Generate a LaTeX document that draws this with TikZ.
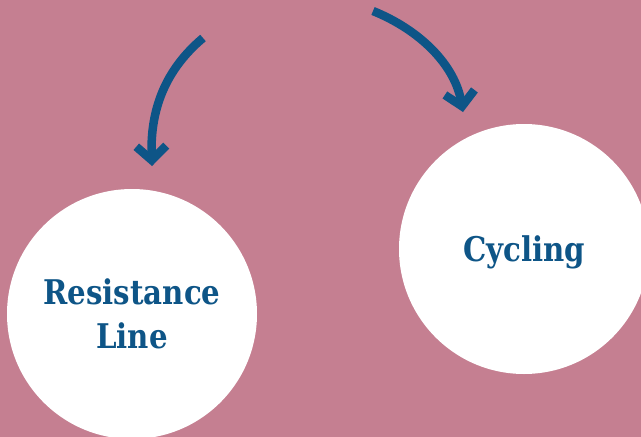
\documentclass[tikz,border=0pt]{standalone}
\usepackage{fontspec}
\setmainfont{DejaVu Serif}[FakeStretch=0.86]
\usepackage{xcolor}
\usepackage{tikz}
\usetikzlibrary{arrows.meta}
\definecolor{bgpink}{HTML}{C57F91}
\definecolor{inkblue}{HTML}{0E5587}

\begin{document}
\begin{tikzpicture}[
        x=1pt, y=-1pt,
        bubble/.style={
            circle,
            fill=white,
            align=center,
            text=inkblue,
            font=\bfseries\fontsize{34}{44}\selectfont,
            minimum size=250pt,
            text depth=0pt,
            inner sep=0pt
        },
        curvearrow/.style={
            draw=inkblue,
            line width=8.5pt,
            -{Straight Barb[length=14pt,width=30pt]}
        }
    ]
        \clip (0,0) rectangle (641,437);
        \fill[bgpink] (0,0) rectangle (641,437);

        \node[bubble] (resist) at (132,314) {Resistance\\Line};
        \node[bubble] (cycling) at (524,249) {Cycling};

        \coordinate (leftstart) at (203,38);
        \coordinate (lefttip) at (152,166);
        \coordinate (rightstart) at (373,11);
        \coordinate (righttip) at (463,112);

        \draw[curvearrow] (leftstart) .. controls (165,70) and (150,110) .. (lefttip);
        \draw[curvearrow] (rightstart) .. controls (420,30) and (455,65) .. (righttip);
    \end{tikzpicture}
\end{document}
